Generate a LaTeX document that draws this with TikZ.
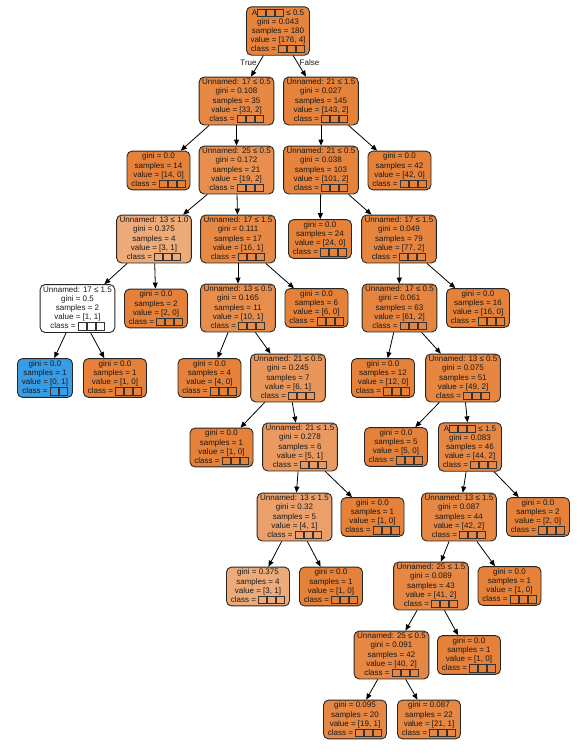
\documentclass[tikz,border=0pt]{standalone}
\usepackage{fontspec}
\setmainfont{Liberation Sans}
\usetikzlibrary{arrows.meta}
\definecolor{cls0}{HTML}{E58139}
\definecolor{cls1}{HTML}{399DE5}
\newcommand{\tfb}{{\setlength{\fboxsep}{0pt}\setlength{\fboxrule}{0.9pt}\color{black!80}\raisebox{-0.8pt}{\fbox{\rule{0pt}{6.2pt}\hspace{7.2pt}}}}}
\newcommand{\clsline}{class = \tfb\tfb\tfb}
\newcommand{\leafnode}[3]{gini = #1\\samples = #2\\value = [#3]\\\clsline}
\newcommand{\splitnode}[4]{#1\\gini = #2\\samples = #3\\value = [#4]\\\clsline}
\tikzset{
  box/.style={draw=black!85, line width=0.9pt, rounded corners=5pt, align=center,
    font=\fontsize{8}{9.1}\selectfont, inner xsep=3pt, inner ysep=2pt,
    minimum width=63pt, text=black!90},
  sh/.style={box, fill=cls0!#1!white},
  edge/.style={draw=black, line width=0.8pt, -{Triangle[length=6pt,width=5pt]}},
  lbl/.style={font=\fontsize{8}{9.1}\selectfont, inner sep=0pt, text=black!90}}
\begin{document}
\begin{tikzpicture}[x=1pt,y=-1pt]
\useasboundingbox (0,0) rectangle (583,755);
\fill[white] (0,0) rectangle (583,755);
% level 0
\node[sh=98] (n0) at (278,31) {\splitnode{A\tfb\tfb\tfb{} ≤ 0.5}{0.043}{180}{176, 4}};
% level 1
\node[sh=94] (n1) at (236.5,101) {\splitnode{Unnamed: 17 ≤ 0.5}{0.108}{35}{33, 2}};
\node[sh=99] (n2) at (321,101) {\splitnode{Unnamed: 21 ≤ 1.5}{0.027}{145}{143, 2}};
% level 2
\node[sh=100] (n3) at (158.5,170.5) {\leafnode{0.0}{14}{14, 0}};
\node[sh=89] (n4) at (236.5,170) {\splitnode{Unnamed: 25 ≤ 0.5}{0.172}{21}{19, 2}};
\node[sh=98] (n5) at (321,170) {\splitnode{Unnamed: 21 ≤ 0.5}{0.038}{103}{101, 2}};
\node[sh=100] (n6) at (399.5,170.5) {\leafnode{0.0}{42}{42, 0}};
% level 3
\node[sh=67] (n7) at (154,239) {\splitnode{Unnamed: 13 ≤ 1.0}{0.375}{4}{3, 1}};
\node[sh=94] (n8) at (238,239) {\splitnode{Unnamed: 17 ≤ 1.5}{0.111}{17}{16, 1}};
\node[sh=100] (n9) at (320,239) {\leafnode{0.0}{24}{24, 0}};
\node[sh=97] (n10) at (399,239) {\splitnode{Unnamed: 17 ≤ 1.5}{0.049}{79}{77, 2}};
% level 4
\node[box, fill=white] (n11) at (77.5,308.5) {\splitnode{Unnamed: 17 ≤ 1.5}{0.5}{2}{1, 1}};
\node[sh=100] (n12) at (156,308.5) {\leafnode{0.0}{2}{2, 0}};
\node[sh=90] (n13) at (238,308) {\splitnode{Unnamed: 13 ≤ 0.5}{0.165}{11}{10, 1}};
\node[sh=100] (n14) at (316.5,308) {\leafnode{0.0}{6}{6, 0}};
\node[sh=97] (n15) at (399.5,308) {\splitnode{Unnamed: 17 ≤ 0.5}{0.061}{63}{61, 2}};
\node[sh=100] (n16) at (478,308) {\leafnode{0.0}{16}{16, 0}};
% level 5
\node[box, fill=cls1, minimum width=55pt] (n17) at (45,378) {gini = 0.0\\samples = 1\\value = [0, 1]\\class = \tfb\tfb};
\node[sh=100] (n18) at (115,378) {\leafnode{0.0}{1}{1, 0}};
\node[sh=100] (n19) at (209.5,378) {\leafnode{0.0}{4}{4, 0}};
\node[sh=83] (n20) at (288,378) {\splitnode{Unnamed: 21 ≤ 0.5}{0.245}{7}{6, 1}};
\node[sh=100] (n21) at (383,378) {\leafnode{0.0}{12}{12, 0}};
\node[sh=96] (n22) at (463,378) {\splitnode{Unnamed: 13 ≤ 0.5}{0.075}{51}{49, 2}};
% level 6
\node[sh=100] (n23) at (221.5,447.5) {\leafnode{0.0}{1}{1, 0}};
\node[sh=80] (n24) at (300,447) {\splitnode{Unnamed: 21 ≤ 1.5}{0.278}{6}{5, 1}};
\node[sh=100] (n25) at (396,447) {\leafnode{0.0}{5}{5, 0}};
\node[sh=95] (n26) at (470,447) {\splitnode{A\tfb\tfb\tfb{} ≤ 1.5}{0.083}{46}{44, 2}};
% level 7
\node[sh=75] (n27) at (294.5,517) {\splitnode{Unnamed: 13 ≤ 1.5}{0.32}{5}{4, 1}};
\node[sh=100] (n28) at (372.5,517) {\leafnode{0.0}{1}{1, 0}};
\node[sh=95] (n29) at (459,517) {\splitnode{Unnamed: 13 ≤ 1.5}{0.087}{44}{42, 2}};
\node[sh=100] (n30) at (538,517) {\leafnode{0.0}{2}{2, 0}};
% level 8
\node[sh=67] (n31) at (258,586.5) {\leafnode{0.375}{4}{3, 1}};
\node[sh=100] (n32) at (331,586.5) {\leafnode{0.0}{1}{1, 0}};
\node[sh=95] (n33) at (431,586) {\splitnode{Unnamed: 25 ≤ 1.5}{0.089}{43}{41, 2}};
\node[sh=100] (n34) at (509.5,586) {\leafnode{0.0}{1}{1, 0}};
% level 9
\node[sh=95] (n35) at (391.5,655) {\splitnode{Unnamed: 25 ≤ 0.5}{0.091}{42}{40, 2}};
\node[sh=100] (n36) at (469,655) {\leafnode{0.0}{1}{1, 0}};
% level 10
\node[sh=95] (n37) at (355,719.5) {\leafnode{0.095}{20}{19, 1}};
\node[sh=95] (n38) at (429,719.5) {\leafnode{0.087}{22}{21, 1}};
% edges
\foreach \p/\c in {n0/n1,n0/n2,n1/n3,n1/n4,n2/n5,n2/n6,n4/n7,n4/n8,n5/n9,n5/n10,
  n7/n11,n7/n12,n8/n13,n8/n14,n10/n15,n10/n16,n11/n17,n11/n18,n13/n19,n13/n20,
  n15/n21,n15/n22,n20/n23,n20/n24,n22/n25,n22/n26,n24/n27,n24/n28,n26/n29,n26/n30,
  n27/n31,n27/n32,n29/n33,n29/n34,n33/n35,n33/n36,n35/n37,n35/n38}
  \draw[edge] (\p) -- (\c);
\node[lbl] (tl) at (248.5,62.5) {True};
\node[lbl] (fl) at (309.5,63) {False};
\end{tikzpicture}
\end{document}
